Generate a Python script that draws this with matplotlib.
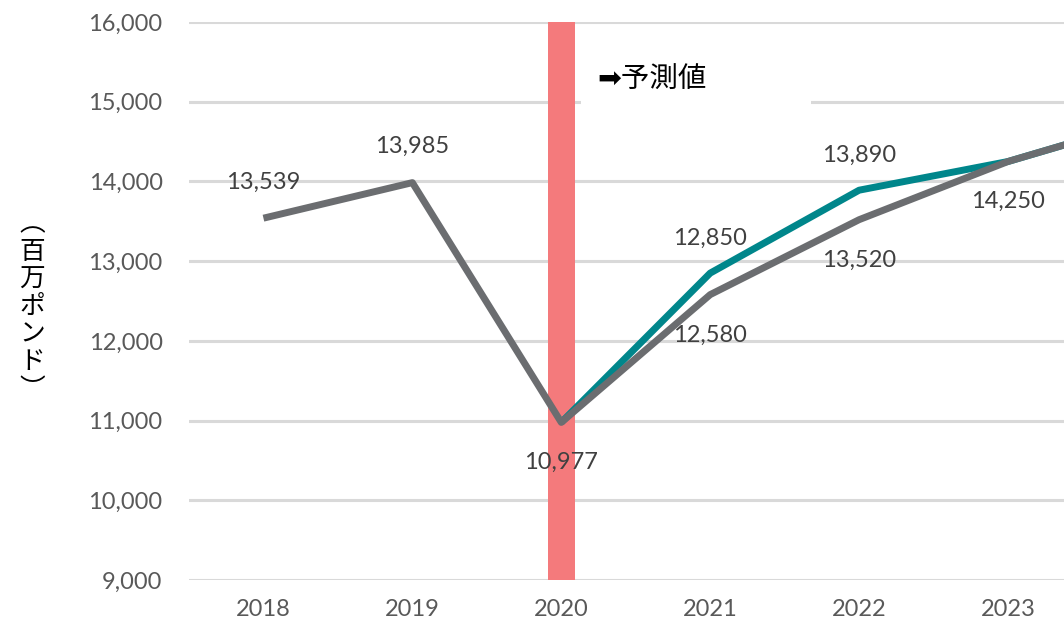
import matplotlib
matplotlib.use("Agg")
import matplotlib.pyplot as plt
from matplotlib.patches import Rectangle

# Datos
anios = ["2018", "2019", "2020", "2021", "2022", "2023", "2024"]
real = [13539, 13985, 10977, 12580, 13520, 14250, 14800]
prevision = [None, None, 10977, 12850, 13890, 14250, 14800]
etiquetas_arriba = {0: 13539, 1: 13985}
etiquetas_prev = {3: 12850, 4: 13890}
etiquetas_abajo = {2: 10977, 3: 12580, 4: 13520, 5: 14250}
y_ticks = [9000, 10000, 11000, 12000, 13000, 14000, 15000, 16000]

plt.rcParams['font.family'] = ['Lato', 'Noto Sans CJK JP', 'DejaVu Sans']

fig = plt.figure(figsize=(10.64, 6.27), dpi=100)
ax = fig.add_axes([189/1064, 1-580/627, 1-189/1064, (580-22)/627])

x = list(range(len(anios)))
x_prev = [i for i, v in enumerate(prevision) if v is not None]
y_prev = [v for v in prevision if v is not None]

# Barra roja en 2020
ax.axvspan(2-0.09, 2+0.09, ymin=0, ymax=1, color='#F47A7C', zorder=1, lw=0)
# Caja blanca detras del texto
ax.add_patch(Rectangle((2.134, 14800), 3.678-2.134, 900, facecolor='white',
                       edgecolor='none', zorder=1.5))

ax.plot(x_prev, y_prev, color='#00868B', lw=5, zorder=3, solid_capstyle='butt')
ax.plot(x, real, color='#6B6D70', lw=5, zorder=3.1, solid_capstyle='butt')

fs = 17
for i, v in etiquetas_arriba.items():
    ax.annotate(f"{v:,}", (i, v), xytext=(0, 26), textcoords='offset points',
                ha='center', va='center', fontsize=fs, color='#404040', zorder=5)
for i, v in etiquetas_prev.items():
    ax.annotate(f"{v:,}", (i, v), xytext=(0, 25), textcoords='offset points',
                ha='center', va='center', fontsize=fs, color='#404040', zorder=5)
for i, v in etiquetas_abajo.items():
    ax.annotate(f"{v:,}", (i, v), xytext=(0, -29), textcoords='offset points',
                ha='center', va='center', fontsize=fs, color='#404040', zorder=5)

ax.text(2.24, 15272, "➡予測値", ha='left', va='center', fontsize=20.5,
        color='black', family=['DejaVu Sans', 'Noto Sans CJK JP'], zorder=5)

ax.set_xlim(-0.5, (1064-263)/149)
ax.set_ylim(9000, 16000)
ax.set_xticks(x[:6])
ax.set_xticklabels(anios[:6])
ax.set_yticks(y_ticks)
ax.set_yticklabels([f"{t:,}" for t in y_ticks])
ax.tick_params(axis='both', length=0, labelsize=fs, colors='#595959')
ax.tick_params(axis='y', pad=19)
ax.tick_params(axis='x', pad=14)
ax.yaxis.grid(True, color='#D9D9D9', lw=2.2, zorder=0)
ax.set_axisbelow(True)
for s in ax.spines.values():
    s.set_visible(False)

fig.text(0.030, 0.51, "\n".join("︵百万ポンド︶"), ha='center', va='center',
         fontsize=18.5, linespacing=1.08, family=['Noto Sans CJK JP', 'DejaVu Sans'])

fig.savefig("out.png", dpi=100)
